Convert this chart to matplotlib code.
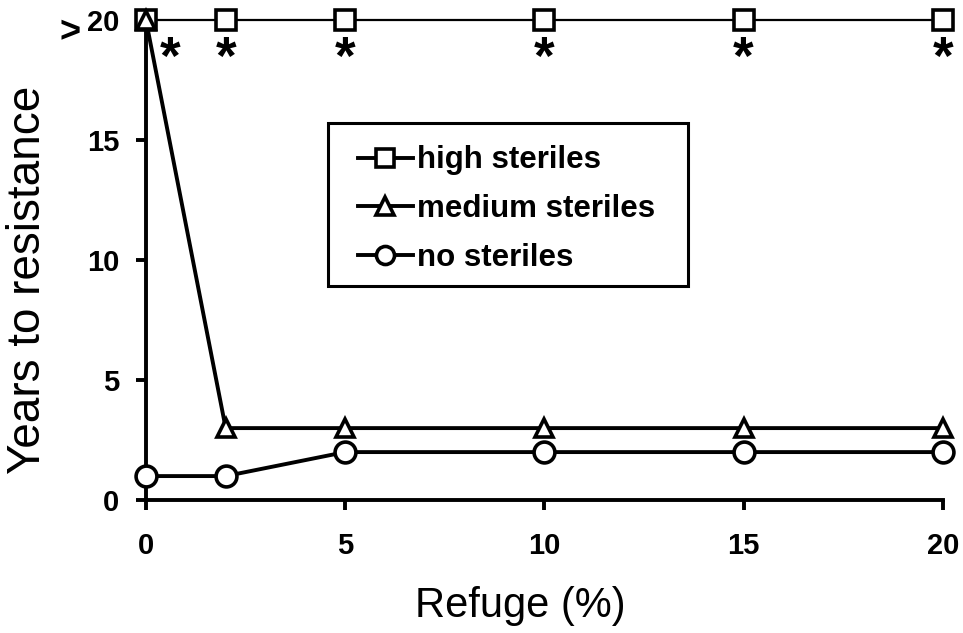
import matplotlib
matplotlib.use("Agg")
import matplotlib.pyplot as plt
from matplotlib.patches import Rectangle

plt.rcParams['font.family'] = ['Liberation Sans', 'DejaVu Sans']

refuge = [0, 2, 5, 10, 15, 20]
high = [20, 20, 20, 20, 20, 20]
medium = [20, 3, 3, 3, 3, 3]
none = [1, 1, 2, 2, 2, 2]
star_x = [0.6, 2, 5, 10, 15, 20]
star_y = 18.35
xticks = [0, 5, 10, 15, 20]
yticks = [0, 5, 10, 15, 20]
ytick_labels = ['0', '5', '10', '15', '20']

fig = plt.figure(figsize=(9.63, 6.33), dpi=100)
ax = fig.add_axes([0.1516, 0.21, 0.8274, 0.758])

mk = dict(markerfacecolor='white', markeredgecolor='black', markeredgewidth=2.6,
          color='black', clip_on=False)
ax.plot(refuge, medium, marker='^', markersize=13, linewidth=2.8, label='medium steriles', zorder=4.2, **mk)
ax.plot(refuge, none, marker='o', markersize=15, linewidth=2.8, label='no steriles', zorder=3, **mk)
ax.plot(refuge, high, marker='s', markersize=14, linewidth=1.6, label='high steriles', zorder=4, **mk)

for sx in star_x:
    ax.text(sx, star_y, '*', ha='center', va='center', fontsize=38, fontweight='bold')

ax.set_xlim(0, 20)
ax.set_ylim(0, 20)
ax.set_xticks(xticks)
ax.set_yticks(yticks)
ax.set_yticklabels(ytick_labels)
for lab in ax.get_xticklabels() + ax.get_yticklabels():
    lab.set_fontweight('bold')
    lab.set_fontsize(21)
ax.tick_params(axis='x', direction='out', length=7, width=2.8, pad=16)
ax.tick_params(axis='y', direction='out', length=7, width=2.8, pad=12)
for s in ['top', 'right']:
    ax.spines[s].set_visible(False)
for s in ['left', 'bottom']:
    ax.spines[s].set_linewidth(2.8)
ax.annotate('>', xy=(0, 20), xycoords='data', xytext=(-55, -9), textcoords='offset points',
            ha='center', va='center', fontsize=26, fontweight='bold')

ax.set_xlabel('Refuge (%)', fontsize=30)
ax.set_ylabel('Years to resistance', fontsize=33)
ax.xaxis.set_label_coords(0.47, -0.18)
ax.yaxis.set_label_coords(-0.12, 0.458)

# legend box
ax.add_patch(Rectangle((0.2284, 0.4458), 0.4516, 0.3392, transform=ax.transAxes,
                       facecolor='white', edgecolor='black', linewidth=2.2, zorder=4.5))
h, l = ax.get_legend_handles_labels()
order = [2, 0, 1]
leg = ax.legend([h[i] for i in order], [l[i] for i in order],
                loc='upper left', bbox_to_anchor=(0.213, 0.827), frameon=False,
                handlelength=1.75, handletextpad=0.15,
                borderpad=0.85, labelspacing=0.6, prop={'weight': 'bold', 'size': 22.5})
leg.set_zorder(5)
for lh in leg.legend_handles:
    lh.set_markersize(13)
    lh.set_linewidth(2.8)

fig.savefig('out.png', dpi=100)
